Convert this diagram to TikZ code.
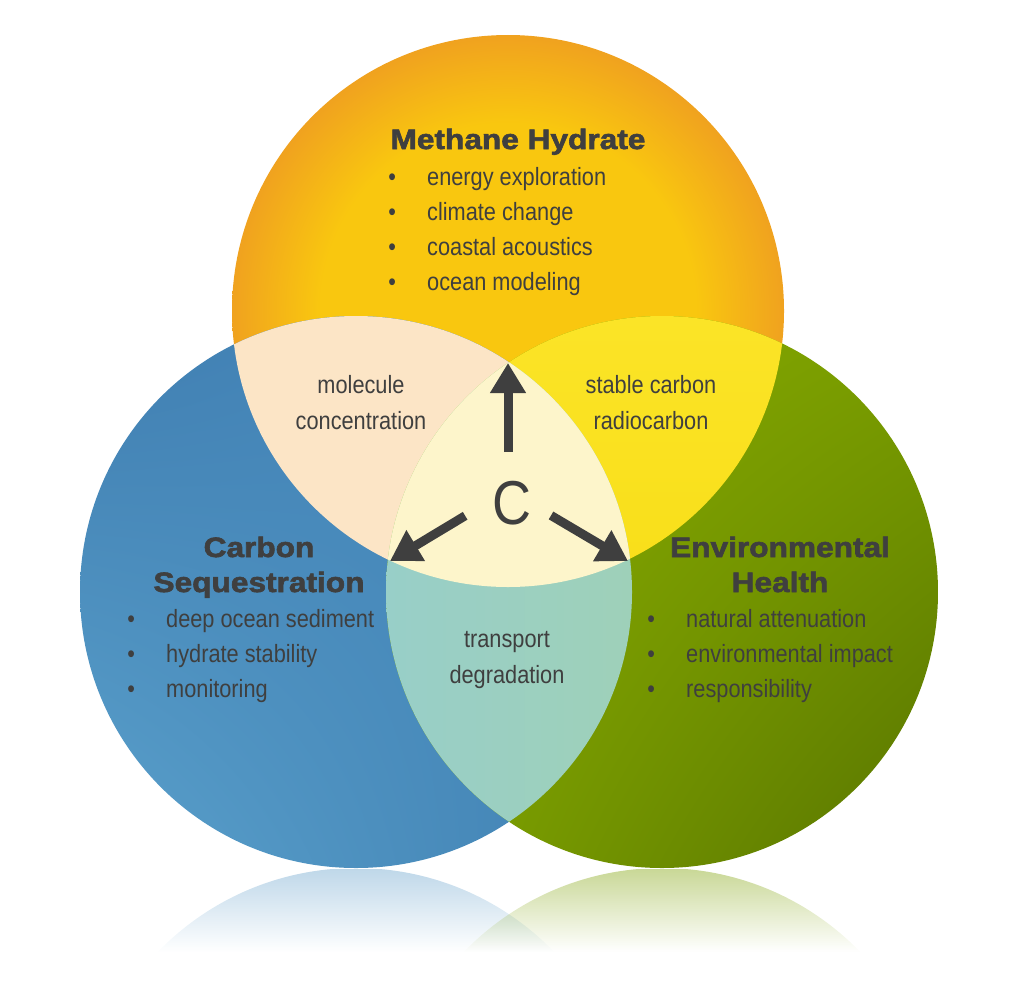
\documentclass[tikz,border=0pt]{standalone}
\usepackage{fontspec}
\setmainfont{Liberation Sans}[FakeStretch=0.87]
\newfontfamily\titlefont{Liberation Sans}[FakeStretch=1.13,FakeBold=2.2]
\usetikzlibrary{positioning,matrix,arrows.meta,fadings,shadings}

\definecolor{testo}{HTML}{3F3F3F}
\definecolor{arancioIn}{HTML}{F9C70F}
\definecolor{arancioOut}{HTML}{F0A21F}
\definecolor{bluA}{HTML}{3F7DB0}
\definecolor{bluB}{HTML}{4A8DC0}
\definecolor{bluC}{HTML}{5BA2CD}
\definecolor{bluD}{HTML}{4080B2}
\definecolor{verdeA}{HTML}{8CAE00}
\definecolor{verdeB}{HTML}{7A9E00}
\definecolor{verdeC}{HTML}{80A400}
\definecolor{verdeD}{HTML}{587400}
\definecolor{pesca}{HTML}{FCE5C6}
\definecolor{gialloA}{HTML}{FBE427}
\definecolor{gialloB}{HTML}{F6D90A}
\definecolor{acquaA}{HTML}{98CFC8}
\definecolor{acquaB}{HTML}{A6D1A6}
\definecolor{centroC}{HTML}{FDF5CB}
\definecolor{riflBlu}{HTML}{7FB0D3}
\definecolor{riflVerde}{HTML}{93B02E}

\pgfdeclareradialshading{solare}{\pgfpoint{0bp}{0bp}}{color(0bp)=(arancioIn); color(17bp)=(arancioIn); color(25bp)=(arancioOut); color(50bp)=(arancioOut)}
\tikzfading[name=riflesso, top color=transparent!50, bottom color=transparent!100]

\begin{document}
\begin{tikzpicture}[x=1pt,y=-1pt,
    every node/.style={text=testo},
    titolo/.style={font=\titlefont\bfseries\fontsize{28}{35}\selectfont, align=center, inner sep=0pt},
    voce/.style={font=\fontsize{25}{36}\selectfont},
    elenco/.style={matrix of nodes, inner sep=0pt,
      nodes={voce, inner sep=0pt, text height=18pt, text depth=5pt},
      column 1/.style={nodes={minimum width=10pt}},
      column 2/.style={nodes={anchor=base west}},
      column sep=30pt, row sep=12pt},
    freccia/.style={draw=testo, line width=9pt, -{Triangle[length=30pt,width=34pt]}}]
  \useasboundingbox (0,0) rectangle (1024,982);

  % Centri
  \coordinate (cT) at (508,311);
  \coordinate (cL) at (356,592);
  \coordinate (cR) at (662,592);
  \def\raggio{276pt}

  % Riflessi
  \begin{scope}
    \clip (356,1144) circle[radius=\raggio];
    \fill[riflBlu, path fading=riflesso] (60,869) rectangle (660,952);
  \end{scope}
  \begin{scope}
    \clip (662,1144) circle[radius=\raggio];
    \fill[riflVerde, path fading=riflesso] (360,869) rectangle (960,952);
  \end{scope}

  % Cerchi
  \shade[shading=solare] (cT) circle[radius=\raggio];
  \shade[upper left=bluA, upper right=bluB, lower left=bluC, lower right=bluD] (cL) circle[radius=\raggio];
  \shade[upper left=verdeA, upper right=verdeB, lower left=verdeC, lower right=verdeD] (cR) circle[radius=\raggio];

  % Intersezioni
  \begin{scope}
    \clip (cT) circle[radius=\raggio];
    \fill[pesca] (cL) circle[radius=\raggio];
  \end{scope}
  \begin{scope}
    \clip (cT) circle[radius=\raggio];
    \shade[top color=gialloA, bottom color=gialloB] (cR) circle[radius=\raggio];
  \end{scope}
  \begin{scope}
    \clip (cL) circle[radius=\raggio];
    \shade[left color=acquaA, right color=acquaB] (cR) circle[radius=\raggio];
  \end{scope}
  \begin{scope}
    \clip (cT) circle[radius=\raggio];
    \clip (cL) circle[radius=\raggio];
    \fill[centroC] (cR) circle[radius=\raggio];
  \end{scope}

  % Titoli
  \node (titoloMH) [titolo, anchor=base] at (518,149) {Methane Hydrate};
  \node (titoloCS) [titolo, anchor=base] at (259,592) {Carbon\\Sequestration};
  \node (titoloEH) [titolo, anchor=base] at (780,592) {Environmental\\Health};

  % Elenchi
  \matrix (elencoMH) [elenco, anchor=north west] at (387,167) {
    \textbullet & energy exploration \\
    \textbullet & climate change \\
    \textbullet & coastal acoustics \\
    \textbullet & ocean modeling \\
  };
  \matrix (elencoCS) [elenco, anchor=north west] at (126,609) {
    \textbullet & deep ocean sediment \\
    \textbullet & hydrate stability \\
    \textbullet & monitoring \\
  };
  \matrix (elencoEH) [elenco, anchor=north west] at (646,609) {
    \textbullet & natural attenuation \\
    \textbullet & environmental impact \\
    \textbullet & responsibility \\
  };

  % Intersezioni: testi
  \node (molecola) [voce, align=center, anchor=base, inner sep=0pt] at (361,429) {molecule\\concentration};
  \node (isotopi) [voce, align=center, anchor=base, inner sep=0pt] at (651,429) {stable carbon\\radiocarbon};
  \node (trasporto) [voce, align=center, anchor=base, inner sep=0pt] at (507,683) {transport\\degradation};
  \node (cmark) [font=\fontsize{62}{62}\selectfont, inner sep=0pt] at (512,503) {C};

  % Frecce
  \coordinate (centro) at (508,490);
  \coordinate (puntaT) at (508,363);
  \coordinate (puntaL) at (390,561);
  \coordinate (puntaR) at (628,561);
  \draw[freccia, shorten <=38pt] (centro) -- (puntaT);
  \draw[freccia, shorten <=50pt] (centro) -- (puntaL);
  \draw[freccia, shorten <=50pt] (centro) -- (puntaR);
\end{tikzpicture}
\end{document}
